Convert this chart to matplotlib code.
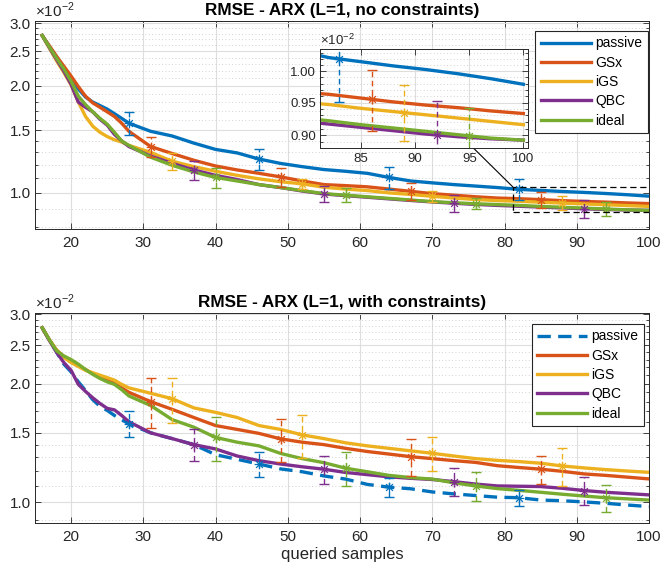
import numpy as np
import matplotlib
matplotlib.use('Agg')
import matplotlib.pyplot as plt
from matplotlib.path import Path
from matplotlib.patches import Rectangle, ConnectionPatch
from matplotlib.ticker import FixedLocator, FixedFormatter, NullLocator, NullFormatter

plt.rcParams['font.family'] = ['Liberation Sans', 'DejaVu Sans']
plt.rcParams['mathtext.fontset'] = 'custom'
plt.rcParams['mathtext.rm'] = 'Liberation Sans'

# queried samples
xs = [16, 17, 18, 19, 20, 21, 22, 23, 24, 25, 26, 27, 28, 31, 34, 37, 40, 43, 46, 49,
      52, 55, 58, 61, 64, 67, 70, 73, 76, 79, 82, 85, 88, 91, 94, 97, 100]

names = ['passive', 'GSx', 'iGS', 'QBC', 'ideal']
colors = ['#0072BD', '#D95319', '#EDB120', '#7E2F8E', '#77AC30']

# RMSE (x 1e-2), no constraints
top_passive = [2.77, 2.58, 2.41, 2.25, 2.11, 1.96, 1.86, 1.80, 1.76, 1.72, 1.67, 1.62, 1.57,
               1.49, 1.445, 1.38, 1.325, 1.295, 1.245, 1.21, 1.185, 1.163, 1.15, 1.135, 1.105,
               1.08, 1.067, 1.055, 1.045, 1.035, 1.023, 1.016, 1.009, 1.003, 0.996, 0.988, 0.979]
top_gsx = [2.77, 2.59, 2.42, 2.27, 2.13, 1.99, 1.87, 1.79, 1.74, 1.69, 1.64, 1.57, 1.49,
           1.35, 1.29, 1.235, 1.19, 1.16, 1.135, 1.109, 1.08, 1.055, 1.048, 1.04, 1.025,
           1.01, 0.995, 0.985, 0.975, 0.967, 0.963, 0.957, 0.951, 0.946, 0.942, 0.937, 0.933]
top_igs = [2.77, 2.55, 2.35, 2.18, 2.01, 1.80, 1.64, 1.54, 1.48, 1.44, 1.41, 1.39, 1.36,
           1.30, 1.227, 1.185, 1.15, 1.12, 1.095, 1.075, 1.06, 1.037, 1.025, 1.015, 1.00,
           0.99, 0.978, 0.967, 0.958, 0.951, 0.947, 0.941, 0.936, 0.931, 0.926, 0.921, 0.916]
top_qbc = [2.77, 2.56, 2.37, 2.20, 2.02, 1.80, 1.74, 1.69, 1.61, 1.55, 1.46, 1.40, 1.35,
           1.27, 1.21, 1.16, 1.12, 1.09, 1.055, 1.035, 1.012, 0.993, 0.982, 0.972, 0.962,
           0.952, 0.943, 0.935, 0.928, 0.922, 0.917, 0.912, 0.907, 0.902, 0.898, 0.895, 0.893]
top_ideal = [2.77, 2.57, 2.39, 2.23, 2.06, 1.87, 1.77, 1.69, 1.62, 1.56, 1.48, 1.40, 1.36,
             1.26, 1.195, 1.145, 1.105, 1.08, 1.055, 1.035, 1.015, 0.995, 0.985, 0.975, 0.965,
             0.955, 0.945, 0.938, 0.932, 0.927, 0.922, 0.916, 0.911, 0.906, 0.901, 0.896, 0.893]

# RMSE (x 1e-2), with constraints
bot_passive = [2.77, 2.58, 2.40, 2.24, 2.14, 2.02, 1.92, 1.82, 1.75, 1.71, 1.66, 1.62, 1.58,
               1.50, 1.45, 1.40, 1.32, 1.285, 1.25, 1.215, 1.195, 1.166, 1.145, 1.11, 1.092,
               1.082, 1.062, 1.05, 1.04, 1.03, 1.027, 1.013, 1.009, 1.002, 0.994, 0.984, 0.975]
bot_gsx = [2.77, 2.58, 2.43, 2.34, 2.27, 2.22, 2.17, 2.12, 2.08, 2.04, 2.00, 1.95, 1.90,
           1.80, 1.72, 1.64, 1.565, 1.53, 1.495, 1.448, 1.42, 1.40, 1.37, 1.345, 1.325,
           1.305, 1.29, 1.275, 1.262, 1.238, 1.225, 1.213, 1.198, 1.18, 1.17, 1.158, 1.146]
bot_igs = [2.77, 2.58, 2.43, 2.33, 2.26, 2.21, 2.16, 2.13, 2.10, 2.07, 2.04, 1.99, 1.95,
           1.89, 1.83, 1.735, 1.69, 1.64, 1.565, 1.53, 1.482, 1.45, 1.415, 1.39, 1.37,
           1.35, 1.331, 1.31, 1.29, 1.277, 1.268, 1.256, 1.236, 1.222, 1.21, 1.20, 1.191]
bot_qbc = [2.77, 2.57, 2.40, 2.26, 2.16, 1.99, 1.91, 1.84, 1.78, 1.73, 1.715, 1.66, 1.60,
           1.50, 1.45, 1.40, 1.365, 1.31, 1.275, 1.25, 1.23, 1.213, 1.19, 1.175, 1.16,
           1.15, 1.142, 1.128, 1.112, 1.10, 1.098, 1.096, 1.085, 1.071, 1.06, 1.052, 1.044]
bot_ideal = [2.77, 2.58, 2.42, 2.35, 2.30, 2.24, 2.17, 2.11, 2.06, 2.02, 1.99, 1.93, 1.86,
             1.76, 1.62, 1.55, 1.46, 1.42, 1.39, 1.33, 1.29, 1.26, 1.22, 1.195, 1.17,
             1.155, 1.145, 1.12, 1.10, 1.083, 1.072, 1.06, 1.048, 1.037, 1.027, 1.02, 1.013]

# error bar positions and half-widths (x 1e-2)
err_x = [[28, 46, 64, 82], [31, 49, 67, 85], [34, 52, 70, 88], [37, 55, 73, 91], [40, 58, 76, 94]]
top_err = [[0.12, 0.085, 0.078, 0.07], [0.09, 0.068, 0.053, 0.048], [0.07, 0.035, 0.037, 0.043],
           [0.07, 0.05, 0.052, 0.052], [0.07, 0.045, 0.033, 0.042]]
bot_err = [[0.12, 0.09, 0.06, 0.05], [0.26, 0.18, 0.14, 0.10], [0.24, 0.185, 0.13, 0.135],
           [0.13, 0.10, 0.09, 0.085], [0.185, 0.12, 0.09, 0.08]]

zoom_x = [81.2, 100.4]
zoom_y = [0.882, 1.037]
inset_shift = 1

scale = 1e-2
dark = '#262626'

star = Path([(-1, 0), (1, 0), (0, -1), (0, 1), (-.7, -.7), (.7, .7), (-.7, .7), (.7, -.7)],
            [Path.MOVETO, Path.LINETO] * 4)


def style_axes(ax, yticks, ylabels, yminor, fs=11):
    ax.set_yscale('log')
    ax.yaxis.set_major_locator(FixedLocator(yticks))
    ax.yaxis.set_major_formatter(FixedFormatter(ylabels))
    ax.yaxis.set_minor_locator(FixedLocator(yminor))
    ax.yaxis.set_minor_formatter(NullFormatter())
    ax.xaxis.set_minor_locator(NullLocator())
    ax.tick_params(which='both', direction='in', top=True, right=True, colors=dark,
                   labelsize=fs, width=0.6)
    ax.tick_params(which='major', length=4.5)
    ax.tick_params(axis='y', which='major', pad=3)
    ax.tick_params(axis='x', which='major', pad=5)
    ax.tick_params(which='minor', length=2.5)
    ax.grid(True, which='major', color='#dedede', lw=0.8)
    ax.grid(True, which='minor', axis='y', color='#c4c4c4', lw=0.6, linestyle=(0, (1, 3)))
    ax.set_axisbelow(True)
    for s in ax.spines.values():
        s.set_color(dark)
        s.set_linewidth(0.7)


def draw_errs(ax, ex, ey, ee, c, z=3):
    eb = ax.errorbar(ex, ey, yerr=ee, fmt='none', ecolor=c, elinewidth=1.0,
                     capsize=3.3, capthick=1.0, zorder=z)
    eb[2][0].set_linestyle((0, (4, 2.5)))
    ax.plot(ex, ey, linestyle='none', marker=star, ms=7, mec=c, mew=0.9, mfc='none', zorder=z)


def panel(ax, series, errs, title, dashed_passive, ylim):
    for i, (nm, ys) in enumerate(zip(names, series)):
        ys = np.array(ys) * scale
        ls = (0, (4, 2.2)) if (dashed_passive and i == 0) else '-'
        ax.plot(xs, ys, color=colors[i], lw=2.4, linestyle=ls, label=nm, zorder=2)
    for i, ys in enumerate(series):
        ex = err_x[i]
        ey = [ys[xs.index(v)] * scale for v in ex]
        draw_errs(ax, ex, ey, np.array(errs[i]) * scale, colors[i])
    ax.set_xlim(15, 100)
    ax.set_ylim(*ylim)
    ax.set_xticks([20, 30, 40, 50, 60, 70, 80, 90, 100])
    style_axes(ax, [0.010, 0.015, 0.020, 0.025, 0.030], ['1.0', '1.5', '2.0', '2.5', '3.0'],
               np.arange(0.008, 0.0305, 0.001))
    ax.set_title(title, fontsize=12.3, fontweight='bold', pad=4, color='k')
    ax.text(0.0, 1.004, r'$\times10^{-2}$', transform=ax.transAxes, ha='left', va='bottom',
            fontsize=11, color=dark)


fig = plt.figure(figsize=(6.6, 5.8), dpi=100)
ax1 = fig.add_axes([0.0530, 0.6047, 0.9303, 0.3597])
ax2 = fig.add_axes([0.0530, 0.0983, 0.9303, 0.3621])

top_series = [top_passive, top_gsx, top_igs, top_qbc, top_ideal]
bot_series = [bot_passive, bot_gsx, bot_igs, bot_qbc, bot_ideal]

panel(ax1, top_series, top_err, 'RMSE - ARX (L=1, no constraints)', False, (0.0079, 0.0305))
panel(ax2, bot_series, bot_err, 'RMSE - ARX (L=1, with constraints)', True, (0.00886, 0.0302))
ax2.set_xlabel('queried samples', fontsize=12, color=dark, labelpad=2)

leg_kw = dict(loc='upper right', fontsize=10, handlelength=3.6, handletextpad=0.3,
              labelspacing=0.38, borderpad=0.4, borderaxespad=0, fancybox=False,
              framealpha=1, edgecolor=dark)
l1 = ax1.legend(bbox_to_anchor=(0.998, 0.951), **leg_kw)
l2 = ax2.legend(bbox_to_anchor=(0.992, 0.948), **leg_kw)
for l in (l1, l2):
    l.get_frame().set_linewidth(0.8)

# zoom box on the top panel
ax1.add_patch(Rectangle((zoom_x[0], zoom_y[0] * scale), zoom_x[1] - zoom_x[0],
                        (zoom_y[1] - zoom_y[0]) * scale, fill=False, ec='k', lw=0.9,
                        linestyle=(0, (5, 3)), zorder=5))

# inset
axin = fig.add_axes([320 / 660, 1 - 147.7 / 580, 207.7 / 660, 98.4 / 580])
for i, ys in enumerate(top_series):
    axin.plot(xs, np.array(ys) * scale, color=colors[i], lw=2.4, zorder=2)
for i, ys in enumerate(top_series):
    ex = [v + inset_shift for v in err_x[i]]
    ey = np.interp(ex, xs, ys) * scale
    draw_errs(axin, ex, ey, np.array(top_err[i]) * scale, colors[i])
axin.set_xlim(*zoom_x)
axin.set_ylim(zoom_y[0] * scale, zoom_y[1] * scale)
axin.set_xticks([85, 90, 95, 100])
style_axes(axin, [0.0090, 0.0095, 0.0100], ['0.90', '0.95', '1.00'],
           np.arange(0.0088, 0.01045, 0.0001), fs=9.5)
axin.tick_params(axis='x', which='major', pad=4)
axin.text(0.0, 1.01, r'$\times10^{-2}$', transform=axin.transAxes, ha='left', va='bottom',
          fontsize=9.5, color=dark)
axin.set_zorder(4)

con = ConnectionPatch(xyA=(95.35, zoom_y[0] * scale), coordsA=axin.transData,
                      xyB=(zoom_x[0], zoom_y[1] * scale), coordsB=ax1.transData,
                      color='k', lw=0.8)
fig.add_artist(con)

fig.savefig('out.png', dpi=100)
